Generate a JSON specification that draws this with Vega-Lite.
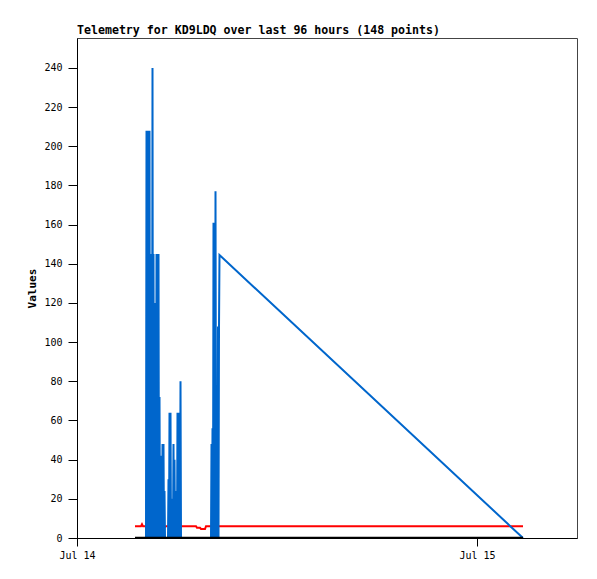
{
  "$schema": "https://vega.github.io/schema/vega-lite/v6.json",
  "autosize": "none",
  "width": 500,
  "height": 500,
  "padding": {"left": 77, "top": 38, "right": 20, "bottom": 41},
  "background": "white",
  "title": {
    "text": "Telemetry for KD9LDQ over last 96 hours (148 points)",
    "anchor": "start",
    "frame": "group",
    "font": "DejaVu Sans Mono",
    "fontSize": 11.6,
    "fontWeight": "bold",
    "color": "black",
    "offset": 1
  },
  "config": {
    "view": {"stroke": "#444444", "strokeWidth": 1},
    "axis": {
      "labelFont": "DejaVu Sans Mono",
      "labelFontSize": 10,
      "labelColor": "black",
      "titleFont": "DejaVu Sans Mono",
      "titleFontSize": 11,
      "titleFontWeight": "bold",
      "titleColor": "black",
      "domainColor": "black",
      "tickColor": "black",
      "grid": false
    }
  },
  "datasets": {
    "blue": [
      {"time": "2023-07-14T03:32:24Z", "value": 0},
      {"time": "2023-07-14T04:08:24Z", "value": 0},
      {"time": "2023-07-14T04:10:12Z", "value": 208},
      {"time": "2023-07-14T04:12:00Z", "value": 0},
      {"time": "2023-07-14T04:13:48Z", "value": 208},
      {"time": "2023-07-14T04:15:36Z", "value": 0},
      {"time": "2023-07-14T04:17:24Z", "value": 208},
      {"time": "2023-07-14T04:19:12Z", "value": 0},
      {"time": "2023-07-14T04:21:00Z", "value": 208},
      {"time": "2023-07-14T04:22:48Z", "value": 0},
      {"time": "2023-07-14T04:28:12Z", "value": 145},
      {"time": "2023-07-14T04:30:00Z", "value": 0},
      {"time": "2023-07-14T04:31:48Z", "value": 240},
      {"time": "2023-07-14T04:33:36Z", "value": 0},
      {"time": "2023-07-14T04:35:24Z", "value": 145},
      {"time": "2023-07-14T04:37:12Z", "value": 0},
      {"time": "2023-07-14T04:39:00Z", "value": 113},
      {"time": "2023-07-14T04:40:48Z", "value": 0},
      {"time": "2023-07-14T04:42:36Z", "value": 120},
      {"time": "2023-07-14T04:44:24Z", "value": 0},
      {"time": "2023-07-14T04:46:12Z", "value": 145},
      {"time": "2023-07-14T04:48:00Z", "value": 0},
      {"time": "2023-07-14T04:49:48Z", "value": 145},
      {"time": "2023-07-14T04:51:36Z", "value": 0},
      {"time": "2023-07-14T04:53:24Z", "value": 145},
      {"time": "2023-07-14T04:55:12Z", "value": 0},
      {"time": "2023-07-14T04:57:00Z", "value": 72},
      {"time": "2023-07-14T04:58:48Z", "value": 0},
      {"time": "2023-07-14T05:00:36Z", "value": 30},
      {"time": "2023-07-14T05:02:24Z", "value": 0},
      {"time": "2023-07-14T05:04:12Z", "value": 42},
      {"time": "2023-07-14T05:06:00Z", "value": 0},
      {"time": "2023-07-14T05:07:48Z", "value": 48},
      {"time": "2023-07-14T05:09:36Z", "value": 0},
      {"time": "2023-07-14T05:11:24Z", "value": 48},
      {"time": "2023-07-14T05:13:12Z", "value": 0},
      {"time": "2023-07-14T05:15:00Z", "value": 24},
      {"time": "2023-07-14T05:16:48Z", "value": 0},
      {"time": "2023-07-14T05:27:36Z", "value": 0},
      {"time": "2023-07-14T05:29:24Z", "value": 30},
      {"time": "2023-07-14T05:31:12Z", "value": 0},
      {"time": "2023-07-14T05:33:00Z", "value": 64},
      {"time": "2023-07-14T05:34:48Z", "value": 0},
      {"time": "2023-07-14T05:36:36Z", "value": 64},
      {"time": "2023-07-14T05:38:24Z", "value": 0},
      {"time": "2023-07-14T05:40:12Z", "value": 20},
      {"time": "2023-07-14T05:42:00Z", "value": 0},
      {"time": "2023-07-14T05:43:48Z", "value": 20},
      {"time": "2023-07-14T05:45:36Z", "value": 0},
      {"time": "2023-07-14T05:47:24Z", "value": 48},
      {"time": "2023-07-14T05:49:12Z", "value": 0},
      {"time": "2023-07-14T05:51:00Z", "value": 40},
      {"time": "2023-07-14T05:52:48Z", "value": 0},
      {"time": "2023-07-14T05:54:36Z", "value": 24},
      {"time": "2023-07-14T05:56:24Z", "value": 0},
      {"time": "2023-07-14T05:58:12Z", "value": 24},
      {"time": "2023-07-14T06:00:00Z", "value": 0},
      {"time": "2023-07-14T06:01:48Z", "value": 64},
      {"time": "2023-07-14T06:03:36Z", "value": 0},
      {"time": "2023-07-14T06:05:24Z", "value": 64},
      {"time": "2023-07-14T06:07:12Z", "value": 0},
      {"time": "2023-07-14T06:09:00Z", "value": 64},
      {"time": "2023-07-14T06:10:48Z", "value": 0},
      {"time": "2023-07-14T06:12:36Z", "value": 80},
      {"time": "2023-07-14T06:14:24Z", "value": 0},
      {"time": "2023-07-14T08:02:24Z", "value": 0},
      {"time": "2023-07-14T08:04:12Z", "value": 48},
      {"time": "2023-07-14T08:06:00Z", "value": 0},
      {"time": "2023-07-14T08:07:48Z", "value": 56},
      {"time": "2023-07-14T08:09:36Z", "value": 0},
      {"time": "2023-07-14T08:11:24Z", "value": 161},
      {"time": "2023-07-14T08:13:12Z", "value": 0},
      {"time": "2023-07-14T08:15:00Z", "value": 161},
      {"time": "2023-07-14T08:16:48Z", "value": 0},
      {"time": "2023-07-14T08:18:36Z", "value": 177},
      {"time": "2023-07-14T08:20:24Z", "value": 36},
      {"time": "2023-07-14T08:22:12Z", "value": 0},
      {"time": "2023-07-14T08:24:00Z", "value": 36},
      {"time": "2023-07-14T08:25:48Z", "value": 0},
      {"time": "2023-07-14T08:27:36Z", "value": 108},
      {"time": "2023-07-14T08:29:24Z", "value": 0},
      {"time": "2023-07-14T08:31:12Z", "value": 108},
      {"time": "2023-07-14T08:33:00Z", "value": 144.5},
      {"time": "2023-07-15T02:45:36Z", "value": 0}
    ],
    "red": [
      {"time": "2023-07-14T03:28:48Z", "value": 6},
      {"time": "2023-07-14T03:50:24Z", "value": 6},
      {"time": "2023-07-14T03:54:00Z", "value": 7},
      {"time": "2023-07-14T03:57:36Z", "value": 6},
      {"time": "2023-07-14T05:05:00Z", "value": 6},
      {"time": "2023-07-14T05:09:36Z", "value": 5},
      {"time": "2023-07-14T05:20:24Z", "value": 6},
      {"time": "2023-07-14T07:08:24Z", "value": 6},
      {"time": "2023-07-14T07:12:00Z", "value": 5.2},
      {"time": "2023-07-14T07:22:48Z", "value": 5.2},
      {"time": "2023-07-14T07:26:24Z", "value": 4.6},
      {"time": "2023-07-14T07:40:48Z", "value": 4.6},
      {"time": "2023-07-14T07:44:24Z", "value": 6},
      {"time": "2023-07-15T02:45:36Z", "value": 6}
    ],
    "black": [
      {"time": "2023-07-14T03:28:48Z", "value": 0},
      {"time": "2023-07-15T02:45:36Z", "value": 0}
    ]
  },
  "encoding": {
    "x": {
      "field": "time",
      "type": "temporal",
      "scale": {"type": "utc", "domain": [1689292800000, 1689400800000], "nice": false},
      "axis": {
        "title": null,
        "values": [1689292800000, 1689379200000],
        "labelExpr": "utcFormat(datum.value, '%b %d')",
        "tickSize": 8,
        "labelPadding": 4,
        "labelFlush": false
      }
    },
    "y": {
      "field": "value",
      "type": "quantitative",
      "scale": {"domain": [0, 255.3], "nice": false, "zero": true},
      "axis": {
        "title": "Values",
        "values": [0, 20, 40, 60, 80, 100, 120, 140, 160, 180, 200, 220, 240],
        "tickSize": 9,
        "labelPadding": 6,
        "titlePadding": 6
      }
    }
  },
  "layer": [
    {"data": {"name": "red"}, "mark": {"type": "line", "color": "#ff0000", "strokeWidth": 2, "clip": true}},
    {"data": {"name": "blue"}, "mark": {"type": "line", "color": "#0066cc", "strokeWidth": 2, "clip": true}},
    {"data": {"name": "black"}, "mark": {"type": "line", "color": "#000000", "strokeWidth": 2.5, "clip": true}}
  ]
}
